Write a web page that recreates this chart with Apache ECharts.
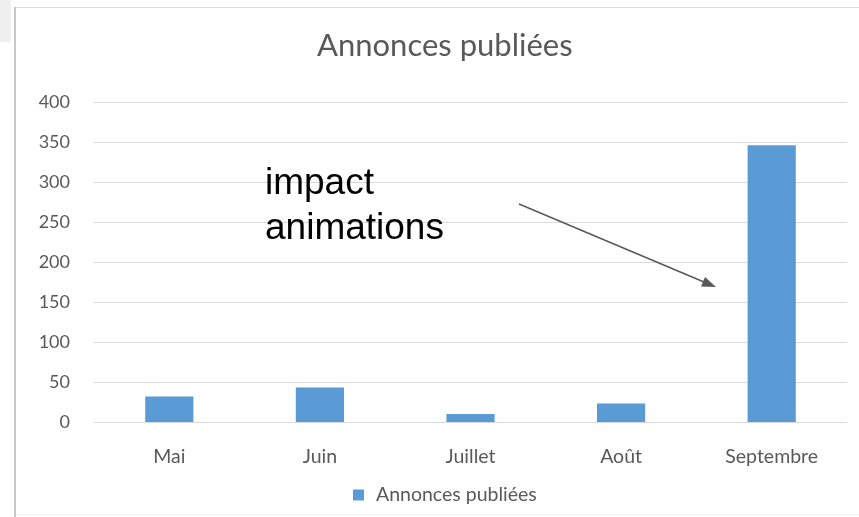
<!DOCTYPE html>
<html>
<head>
<meta charset="utf-8">
<script src="https://cdn.jsdelivr.net/npm/echarts@6/dist/echarts.min.js"></script>
<style>
html,body{margin:0;padding:0;background:#fff;}
#chart{width:859px;height:517px;}
</style>
</head>
<body>
<div id="chart"></div>
<script>
var categories = ['Mai', 'Juin', 'Juillet', 'Août', 'Septembre'];
var annonces = [32, 43, 10, 23, 346];
var yMin = 0, yMax = 400, yStep = 50;
var seriesName = 'Annonces publiées';
var titleText = 'Annonces publiées';
var noteText = 'impact\nanimations';

var chart = echarts.init(document.getElementById('chart'));
var grayText = '#595959';
chart.setOption({
  animation: false,
  backgroundColor: '#ffffff',
  title: {
    text: titleText,
    left: 312,
    top: 25,
    textStyle: { fontFamily: 'Lato', fontSize: 31, fontWeight: 'normal', color: grayText }
  },
  legend: {
    data: [seriesName],
    bottom: 7,
    left: 348,
    icon: 'rect',
    itemWidth: 11,
    itemHeight: 11,
    itemGap: 10,
    textStyle: { fontFamily: 'Lato', fontSize: 19.5, color: grayText, padding: [0, 0, 0, 7] }
  },
  grid: { left: 94, right: 12, top: 102, bottom: 95 },
  xAxis: {
    type: 'category',
    data: categories,
    axisTick: { show: false },
    axisLine: { lineStyle: { color: '#d9d9d9', width: 1 } },
    axisLabel: { fontFamily: 'Lato', fontSize: 19.5, color: grayText, margin: 25 }
  },
  yAxis: {
    type: 'value',
    min: yMin, max: yMax, interval: yStep,
    axisLine: { show: false },
    axisTick: { show: false },
    splitLine: { lineStyle: { color: '#d9d9d9', width: 1 } },
    axisLabel: { fontFamily: 'Lato', fontSize: 18, color: grayText, margin: 24 }
  },
  series: [{
    name: seriesName,
    type: 'bar',
    data: annonces,
    barWidth: '32%',
    itemStyle: { color: '#5b9bd5' }
  }],
  graphic: [
    { type: 'rect', shape: { x: 0, y: 0, width: 11, height: 42 }, style: { fill: '#f0f0f0' }, z: 0 },
    { type: 'line', shape: { x1: 15, y1: 7, x2: 15, y2: 517 }, style: { stroke: '#c8c8c8', lineWidth: 2 }, z: 1 },
    { type: 'line', shape: { x1: 16, y1: 7.5, x2: 859, y2: 7.5 }, style: { stroke: '#dcdcdc', lineWidth: 1 }, z: 1 },
    { type: 'line', shape: { x1: 16, y1: 514.5, x2: 859, y2: 514.5 }, style: { stroke: '#eeeeee', lineWidth: 1 }, z: 1 },
    { type: 'text', left: 265, top: 161, z: 10,
      style: { text: noteText, fontFamily: 'Liberation Sans', fontSize: 37, lineHeight: 45, fill: '#000000' } },
    { type: 'line', shape: { x1: 519, y1: 204, x2: 704, y2: 282 }, style: { stroke: '#595959', lineWidth: 1.5 }, z: 10 },
    { type: 'polygon', shape: { points: [[716, 287], [701, 286.5], [705, 277]] }, style: { fill: '#595959' }, z: 10 }
  ]
});
</script>
</body>
</html>
